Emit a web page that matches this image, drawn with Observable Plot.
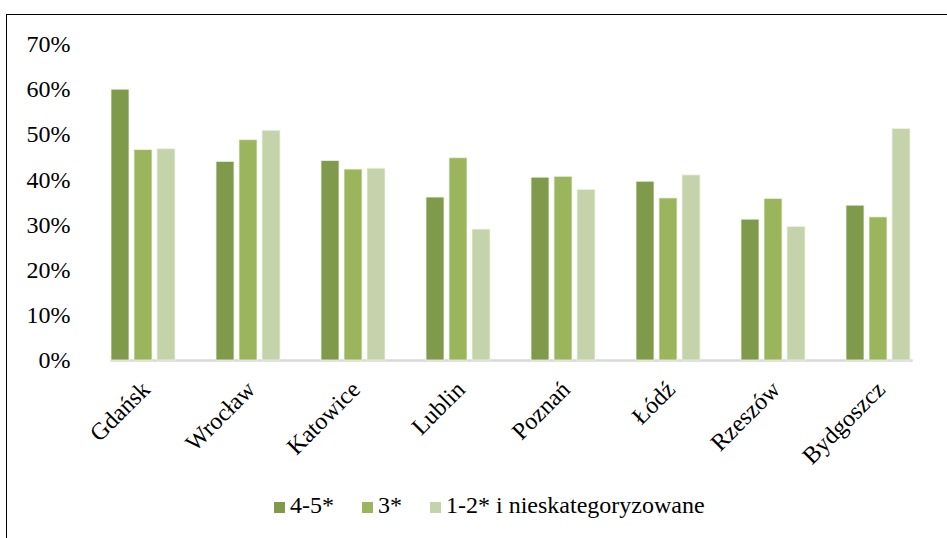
<!DOCTYPE html>
<html>
<head>
<meta charset="utf-8">
<script src="https://cdn.jsdelivr.net/npm/d3@7"></script>
<script src="https://cdn.jsdelivr.net/npm/@observablehq/plot@0.6"></script>
<style>
  html, body { margin: 0; padding: 0; background: #fff; }
  body { width: 947px; height: 538px; position: relative; overflow: hidden; font-family: "Liberation Serif", "Times New Roman", serif; }
  #frame { position: absolute; left: 6px; top: 14px; width: 960px; height: 560px; border: 1.8px solid #000; box-sizing: border-box; }
  #chart { position: absolute; left: 0; top: 0; }
  #legend { position: absolute; left: 0; top: 493px; width: 947px; font-size: 24px; line-height: 24px; color: #000; }
  .item { position: absolute; top: 0; white-space: nowrap; }
  .sw { display: inline-block; width: 11px; height: 11px; margin-right: 5px; vertical-align: baseline; }
</style>
</head>
<body>
<div id="frame"></div>
<div id="chart"></div>
<div id="legend"></div>
<script>
const cities = ["Gdańsk", "Wrocław", "Katowice", "Lublin", "Poznań", "Łódź", "Rzeszów", "Bydgoszcz"];
const seriesNames = ["4-5*", "3*", "1-2* i nieskategoryzowane"];
const seriesColors = ["#7f9a4b", "#9bb55c", "#c5d3aa"];
const s45 = [0.600, 0.440, 0.442, 0.361, 0.405, 0.396, 0.312, 0.343];
const s3 = [0.466, 0.488, 0.423, 0.448, 0.407, 0.359, 0.358, 0.317];
const s12 = [0.468, 0.509, 0.425, 0.290, 0.378, 0.410, 0.296, 0.513];
const yTicks = [0, 0.1, 0.2, 0.3, 0.4, 0.5, 0.6, 0.7];

const seriesValues = [s45, s3, s12];
const data = [];
cities.forEach((c, i) => {
  seriesNames.forEach((s, j) => data.push({city: c, series: s, value: seriesValues[j][i]}));
});

const font = "Liberation Serif";

const chart = Plot.plot({
  width: 947,
  height: 538,
  marginLeft: 90,
  marginRight: 15,
  marginTop: 44,
  marginBottom: 178,
  style: {fontFamily: font, background: "transparent", color: "#000"},
  fx: {domain: cities, paddingInner: 0.38, paddingOuter: 0.19, label: null},
  x: {domain: seriesNames, paddingInner: 0.21, paddingOuter: 0, axis: null},
  y: {domain: [0, 0.7], label: null},
  color: {domain: seriesNames, range: seriesColors},
  marks: [
    Plot.frame({anchor: "bottom", facet: "super", stroke: "#d9d9d9", strokeWidth: 2.5}),
    Plot.barY(data, {fx: "city", x: "series", y: "value", fill: "series", stroke: "#eef3e4", strokeWidth: 0.8}),
    Plot.axisY(yTicks, {tickSize: 0, tickPadding: 41, tickFormat: d3.format(".0%"), fontSize: 24, fontFamily: font, label: null}),
    Plot.axisFx({anchor: "bottom", tickSize: 0, tickPadding: 25, dx: 2, tickRotate: -45, fontSize: 24, fontFamily: font, label: null})
  ]
});
document.getElementById("chart").appendChild(chart);

const legend = document.getElementById("legend");
const lx = [274, 362, 430];
seriesNames.forEach((s, j) => {
  const it = document.createElement("div");
  it.className = "item";
  it.style.left = lx[j] + "px";
  const sw = document.createElement("span");
  sw.className = "sw";
  sw.style.background = seriesColors[j];
  const t = document.createElement("span");
  t.textContent = s;
  it.appendChild(sw);
  it.appendChild(t);
  legend.appendChild(it);
});
</script>
</body>
</html>
